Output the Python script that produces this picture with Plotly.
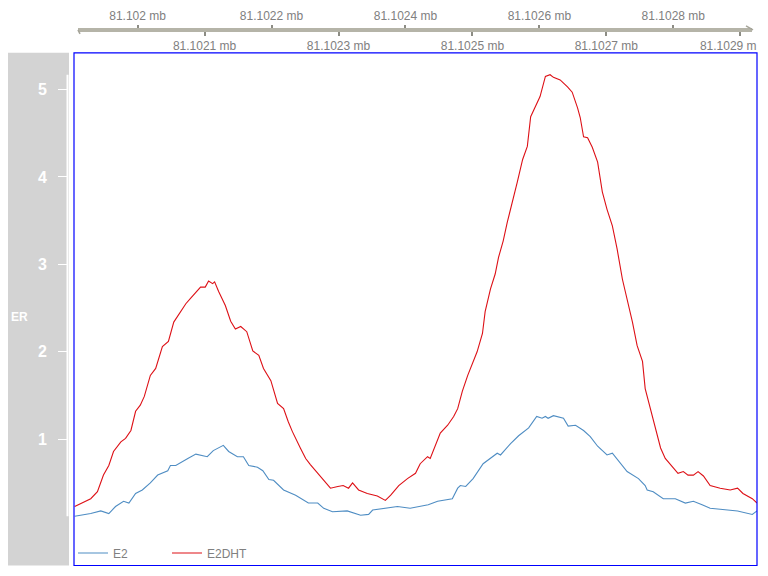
import plotly.graph_objects as go

# ER signal for two conditions (positions in bp on the chromosome)
e2dht_pos = [81101906, 81101930, 81101940, 81101949, 81101957, 81101964, 81101975, 81101982,
             81101990, 81101997, 81102004, 81102010, 81102019, 81102027, 81102037, 81102046,
             81102054, 81102064, 81102072, 81102079, 81102094, 81102101, 81102106, 81102112,
             81102115, 81102121, 81102131, 81102139, 81102146, 81102154, 81102163, 81102172,
             81102181, 81102188, 81102199, 81102209, 81102218, 81102225, 81102231, 81102243,
             81102251, 81102258, 81102269, 81102276, 81102288, 81102299, 81102307, 81102315,
             81102321, 81102330, 81102343, 81102358, 81102370, 81102378, 81102390, 81102403,
             81102415, 81102422, 81102433, 81102437, 81102445, 81102452, 81102463, 81102472,
             81102478, 81102485, 81102493, 81102500, 81102507, 81102515, 81102519, 81102527,
             81102534, 81102539, 81102546, 81102552, 81102560, 81102567, 81102575, 81102582,
             81102587, 81102594, 81102601, 81102609, 81102616, 81102621, 81102631, 81102642,
             81102649, 81102657, 81102661, 81102666, 81102672, 81102679, 81102687, 81102694,
             81102701, 81102709, 81102716, 81102724, 81102731, 81102739, 81102746, 81102754,
             81102758, 81102766, 81102773, 81102781, 81102788, 81102798, 81102807, 81102815,
             81102822, 81102830, 81102837, 81102845, 81102855, 81102870, 81102885, 81102896,
             81102904, 81102918, 81102925]
e2dht_val = [0.23, 0.32, 0.40, 0.59, 0.70, 0.86, 0.97, 1.01,
             1.10, 1.32, 1.39, 1.49, 1.73, 1.81, 2.06, 2.12,
             2.34, 2.46, 2.55, 2.61, 2.74, 2.74, 2.81, 2.78,
             2.80, 2.69, 2.53, 2.35, 2.26, 2.29, 2.23, 2.01,
             1.96, 1.81, 1.67, 1.41, 1.35, 1.20, 1.09, 0.90,
             0.78, 0.71, 0.61, 0.55, 0.44, 0.46, 0.47, 0.44,
             0.50, 0.42, 0.38, 0.35, 0.30, 0.36, 0.47, 0.55,
             0.61, 0.72, 0.80, 0.78, 0.93, 1.07, 1.16, 1.26,
             1.35, 1.55, 1.73, 1.86, 2.00, 2.21, 2.46, 2.72,
             2.89, 3.08, 3.27, 3.48, 3.71, 3.94, 4.20, 4.35,
             4.69, 4.81, 4.92, 5.15, 5.17, 5.14, 5.11, 5.03,
             4.97, 4.79, 4.68, 4.46, 4.45, 4.34, 4.17, 3.83,
             3.63, 3.44, 3.18, 2.83, 2.61, 2.34, 2.07, 1.89,
             1.58, 1.35, 1.16, 0.90, 0.78, 0.69, 0.61, 0.63,
             0.59, 0.59, 0.63, 0.58, 0.47, 0.44, 0.42, 0.44,
             0.38, 0.32, 0.27]

e2_pos = [81101906, 81101915, 81101930, 81101945, 81101957, 81101967, 81101979, 81101987,
          81101997, 81102007, 81102019, 81102030, 81102045, 81102049, 81102057, 81102075,
          81102087, 81102104, 81102113, 81102128, 81102136, 81102149, 81102158, 81102166,
          81102179, 81102187, 81102196, 81102203, 81102218, 81102236, 81102255, 81102269,
          81102278, 81102291, 81102313, 81102333, 81102345, 81102351, 81102367, 81102388,
          81102407, 81102434, 81102448, 81102470, 81102478, 81102482, 81102490, 81102501,
          81102516, 81102527, 81102537, 81102542, 81102557, 81102569, 81102584, 81102596,
          81102604, 81102609, 81102613, 81102621, 81102636, 81102643, 81102654, 81102666,
          81102676, 81102687, 81102701, 81102709, 81102718, 81102731, 81102748, 81102758,
          81102761, 81102770, 81102785, 81102803, 81102818, 81102830, 81102843, 81102855,
          81102870, 81102896, 81102918, 81102925]
e2_val = [0.12, 0.13, 0.15, 0.18, 0.15, 0.23, 0.29, 0.27,
          0.38, 0.42, 0.50, 0.59, 0.64, 0.70, 0.70, 0.78,
          0.83, 0.80, 0.87, 0.93, 0.86, 0.80, 0.80, 0.70,
          0.68, 0.64, 0.54, 0.53, 0.42, 0.36, 0.27, 0.27,
          0.21, 0.17, 0.18, 0.13, 0.14, 0.19, 0.21, 0.23,
          0.21, 0.25, 0.29, 0.32, 0.44, 0.47, 0.46, 0.55,
          0.72, 0.78, 0.84, 0.82, 0.95, 1.04, 1.13, 1.26,
          1.24, 1.26, 1.24, 1.27, 1.24, 1.15, 1.16, 1.10,
          1.03, 0.92, 0.82, 0.84, 0.75, 0.63, 0.55, 0.47,
          0.42, 0.40, 0.32, 0.32, 0.27, 0.29, 0.25, 0.21,
          0.20, 0.18, 0.14, 0.18]

x_range = [81101905, 81102925]
y_range = [-0.45, 5.42]
y_ticks = [1, 2, 3, 4, 5]
top_ticks = [81102000, 81102200, 81102400, 81102600, 81102800]
bottom_ticks = [81102100, 81102300, 81102500, 81102700]
edge_tick = [81102900]  # its label runs off the right edge of the page

def mb_label(v):
    return f"{v / 1e6:g} mb"

# the page body adds an 8px margin, so the figure is shrunk to fit 768x576 exactly
OFF = 8
W, H = 768 - 2 * OFF, 576 - 2 * OFF
px = lambda v: (v - OFF) / W
py = lambda v: 1 - (v - OFF) / H

fig = go.Figure()
fig.add_trace(go.Scatter(x=e2_pos, y=e2_val, mode="lines", name="E2",
                         line=dict(color="#4F8DC3", width=1.1)))
fig.add_trace(go.Scatter(x=e2dht_pos, y=e2dht_val, mode="lines", name="E2DHT",
                         line=dict(color="#DD1016", width=1.1)))

dom = [px(74), px(757)]
bottom = 567.5
axis_font = dict(family="Liberation Sans, Arial", size=12, color="#808080")
genome_axis = dict(domain=dom, range=x_range, overlaying="x", anchor="free",
                   position=py(30), ticks="outside", ticklen=5, tickwidth=1.5,
                   tickcolor="#8c8c84", showgrid=False, zeroline=False,
                   tickfont=axis_font, ticklabeloverflow="allow")
fig.update_layout(
    width=W, height=H,
    margin=dict(l=0, r=0, t=0, b=0),
    paper_bgcolor="white", plot_bgcolor="white",
    xaxis=dict(domain=dom, range=x_range, showgrid=False, zeroline=False,
               showticklabels=False, ticks=""),
    xaxis2=dict(genome_axis, side="top", tickvals=top_ticks,
                ticktext=[mb_label(v) for v in top_ticks]),
    xaxis3=dict(genome_axis, side="bottom", tickvals=bottom_ticks,
                ticktext=[mb_label(v) for v in bottom_ticks]),
    xaxis4=dict(genome_axis, side="bottom", tickvals=edge_tick,
                ticktext=[mb_label(v)[:-1] for v in edge_tick], ticklabelshift=-12),
    yaxis=dict(domain=[0, py(53)], range=y_range, showgrid=False,
               zeroline=False, anchor="free", position=px(68),
               tickvals=y_ticks, ticks="outside", ticklen=10, tickwidth=1,
               tickcolor="white", ticklabelstandoff=8,
               tickfont=dict(family="Liberation Sans, Arial", size=16, color="white",
                             weight="bold")),
    showlegend=True,
    legend=dict(orientation="h", x=px(73), y=py(555), xanchor="left", yanchor="middle",
                bgcolor="rgba(0,0,0,0)", entrywidth=49, entrywidthmode="pixels",
                font=dict(family="Liberation Sans, Arial", size=12, color="#808080"),
                itemclick=False),
)

# dummy traces so the overlaid axes get drawn
for ax in ["x2", "x3", "x4"]:
    fig.add_trace(go.Scatter(x=[x_range[0]], y=[None], xaxis=ax, showlegend=False,
                             hoverinfo="skip"))

shapes = [
    # grey title panel
    dict(type="rect", xref="paper", yref="paper", x0=px(7), x1=px(69), y0=py(bottom), y1=py(53),
         fillcolor="#D3D3D3", line=dict(width=0), layer="below"),
    # white y axis line across the data range
    dict(type="line", xref="paper", yref="y", x0=px(67.5), x1=px(67.5),
         y0=min(e2_val + e2dht_val), y1=max(e2_val + e2dht_val),
         line=dict(color="white", width=2)),
    # blue frame around the data panel
    dict(type="rect", xref="paper", yref="paper", x0=px(74), x1=px(757), y0=py(bottom), y1=py(53),
         line=dict(color="#0000FF", width=1.2)),
    # genome axis bar
    dict(type="line", xref="paper", yref="paper", x0=px(78), x1=px(752), y0=py(30), y1=py(30),
         line=dict(color="#B5B4A8", width=4)),
    dict(type="line", xref="paper", yref="paper", x0=px(753), x1=px(746), y0=py(30), y1=py(26),
         line=dict(color="#A6A59A", width=1.5)),
    dict(type="line", xref="paper", yref="paper", x0=px(78), x1=px(80), y0=py(30), y1=py(34),
         line=dict(color="#A6A59A", width=1.5)),
]
fig.update_layout(shapes=shapes)

fig.add_annotation(text="<b>ER</b>", x=px(19), y=py(318), xref="paper", yref="paper",
                   xanchor="center", showarrow=False,
                   font=dict(family="Liberation Sans, Arial", size=12, color="white"))

fig.write_html("out.html")
